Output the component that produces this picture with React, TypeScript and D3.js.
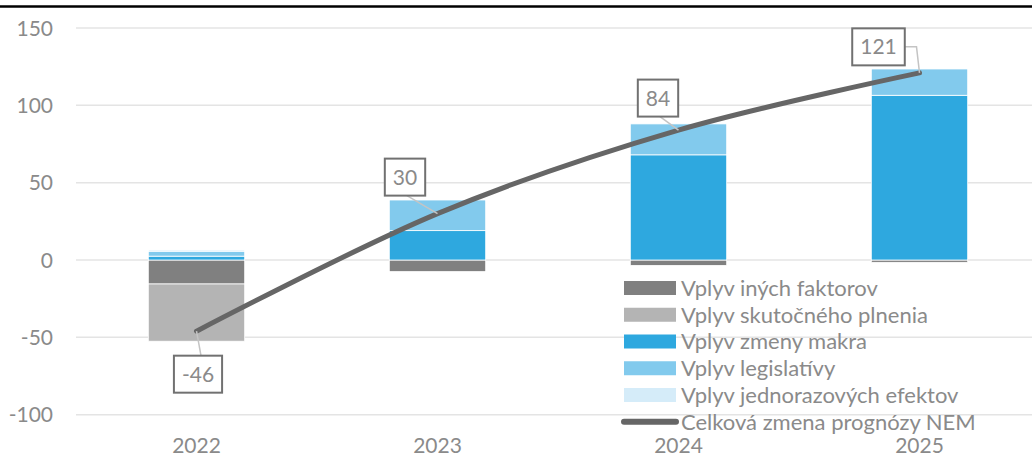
import React, { useEffect, useRef } from "react";
import * as d3 from "d3";

const years = ["2022", "2023", "2024", "2025"];
const inychFaktorov = [-15.5, -7.5, -3.5, -1.5];
const skutocnehoPlnenia = [-37, 0, 0, 0];
const zmenyMakra = [2.5, 19, 68, 106.5];
const legislativy = [3.2, 19.8, 20, 17];
const jednorazove = [0.8, 0, 0, 0];
const celkovaZmena = [-46, 30, 84, 121];
const yTicks = [-100, -50, 0, 50, 100, 150];

const seriesNames = [
  "Vplyv iných faktorov",
  "Vplyv skutočného plnenia",
  "Vplyv zmeny makra",
  "Vplyv legislatívy",
  "Vplyv jednorazových efektov",
];
const lineName = "Celková zmena prognózy NEM";
const seriesColors = ["#808080", "#b4b4b4", "#2ea8df", "#82caed", "#d5ecf9"];
const lineColor = "#666666";
const textColor = "#8a8a8a";
const FONT = "Lato, 'Open Sans', sans-serif";

// label box offsets relative to data point (layout only)
const labelOffsets = [
  { dx: 1.5, dy: 43 },
  { dx: -32.5, dy: -36.5 },
  { dx: -20.5, dy: -32 },
  { dx: -41, dy: -26 },
];

export default function App() {
  const ref = useRef<SVGSVGElement | null>(null);

  useEffect(() => {
    const W = 1032;
    const svg = d3.select(ref.current);
    svg.selectAll("*").remove();

    const x = d3
      .scaleBand<string>()
      .domain(years)
      .range([76, 1040])
      .paddingInner(0.6)
      .paddingOuter(0.3);
    const y = d3.scaleLinear().domain([-100, 150]).range([414.7, 28]);

    // top rule
    svg
      .append("line")
      .attr("x1", 0)
      .attr("x2", W)
      .attr("y1", 6.5)
      .attr("y2", 6.5)
      .attr("stroke", "#000")
      .attr("stroke-width", 2.5);

    // grid
    svg
      .append("g")
      .selectAll("line")
      .data(yTicks)
      .join("line")
      .attr("x1", 76)
      .attr("x2", W)
      .attr("y1", (d) => y(d))
      .attr("y2", (d) => y(d))
      .attr("stroke", "#e4e4e4")
      .attr("stroke-width", 1.5);

    // y tick labels
    svg
      .append("g")
      .selectAll("text")
      .data(yTicks)
      .join("text")
      .attr("x", 53)
      .attr("y", (d) => y(d))
      .attr("dy", "0.36em")
      .attr("text-anchor", "end")
      .attr("font-family", FONT)
      .attr("font-size", 21)
      .attr("fill", textColor)
      .text((d) => String(d));

    // x labels
    svg
      .append("g")
      .selectAll("text")
      .data(years)
      .join("text")
      .attr("x", (d) => (x(d) as number) + x.bandwidth() / 2)
      .attr("y", 453)
      .attr("text-anchor", "middle")
      .attr("font-family", FONT)
      .attr("font-size", 21)
      .attr("fill", textColor)
      .text((d) => d);

    // stacked bars
    const table = years.map((yr, i) => ({
      year: yr,
      s0: inychFaktorov[i],
      s1: skutocnehoPlnenia[i],
      s2: zmenyMakra[i],
      s3: legislativy[i],
      s4: jednorazove[i],
    }));
    const keys = ["s0", "s1", "s2", "s3", "s4"];
    const stacked = d3
      .stack<any>()
      .keys(keys)
      .offset(d3.stackOffsetDiverging)(table);

    svg
      .append("g")
      .selectAll("g")
      .data(stacked)
      .join("g")
      .attr("fill", (_, i) => seriesColors[i])
      .selectAll("rect")
      .data((d) => d.filter((p) => p[1] - p[0] !== 0))
      .join("rect")
      .attr("x", (d: any) => x(d.data.year) as number)
      .attr("width", x.bandwidth())
      .attr("y", (d) => y(Math.max(d[0], d[1])))
      .attr("height", (d) => Math.abs(y(d[0]) - y(d[1])))
      .attr("stroke", "#ffffff")
      .attr("stroke-width", 0.8);

    // total line
    const pts: [number, number][] = years.map((yr, i) => [
      (x(yr) as number) + x.bandwidth() / 2,
      y(celkovaZmena[i]),
    ]);
    const lineGen = d3.line().curve(d3.curveCatmullRom.alpha(0));
    svg
      .append("path")
      .attr("d", lineGen(pts))
      .attr("fill", "none")
      .attr("stroke", lineColor)
      .attr("stroke-width", 5)
      .attr("stroke-linecap", "round")
      .attr("stroke-linejoin", "round");

    // data labels
    const lg = svg.append("g");
    pts.forEach(([px, py], i) => {
      const off = labelOffsets[i];
      const cx = px + off.dx;
      const cy = py + off.dy;
      const t = lg
        .append("text")
        .attr("x", cx)
        .attr("y", cy)
        .attr("dy", "0.36em")
        .attr("text-anchor", "middle")
        .attr("font-family", FONT)
        .attr("font-size", 21)
        .attr("fill", textColor)
        .text(String(celkovaZmena[i]));
      const tw = (t.node() as SVGTextElement).getComputedTextLength();
      const bw = tw + 16;
      const bh = 37;
      let leader: [number, number][];
      if (i === 3) {
        leader = [
          [cx + bw / 2, cy],
          [px - 3, cy],
          [px, py],
        ];
      } else if (off.dy > 0) {
        leader = [
          [cx + 3, cy - bh / 2],
          [px, py],
        ];
      } else {
        leader = [
          [cx + 2, cy + bh / 2],
          [px, py],
        ];
      }
      lg.insert("path", "text")
        .attr("d", d3.line()(leader))
        .attr("fill", "none")
        .attr("stroke", "#c4c4c4")
        .attr("stroke-width", 1.5);
      lg.insert("rect", "text")
        .attr("x", cx - bw / 2)
        .attr("y", cy - bh / 2)
        .attr("width", bw)
        .attr("height", bh)
        .attr("fill", "#ffffff")
        .attr("stroke", "#717171")
        .attr("stroke-width", 2);
    });

    // legend
    const leg = svg.append("g");
    const rowY = (i: number) => 288 + i * 26.75;
    seriesNames.forEach((name, i) => {
      leg
        .append("rect")
        .attr("x", 624)
        .attr("y", rowY(i) - 7)
        .attr("width", 52)
        .attr("height", 14)
        .attr("fill", seriesColors[i]);
      leg
        .append("text")
        .attr("x", 681)
        .attr("y", rowY(i))
        .attr("dy", "0.36em")
        .attr("font-family", FONT)
        .attr("font-size", 22)
        .attr("fill", textColor)
        .text(name);
    });
    leg
      .append("line")
      .attr("x1", 624)
      .attr("x2", 676)
      .attr("y1", rowY(5))
      .attr("y2", rowY(5))
      .attr("stroke", lineColor)
      .attr("stroke-width", 6)
      .attr("stroke-linecap", "round");
    leg
      .append("text")
      .attr("x", 681)
      .attr("y", rowY(5))
      .attr("dy", "0.36em")
      .attr("font-family", FONT)
      .attr("font-size", 22)
      .attr("fill", textColor)
      .text(lineName);
  }, []);

  return (
    <svg
      ref={ref}
      width={1032}
      height={456}
      style={{ position: "absolute", left: 0, top: 0, background: "#ffffff" }}
    />
  );
}
